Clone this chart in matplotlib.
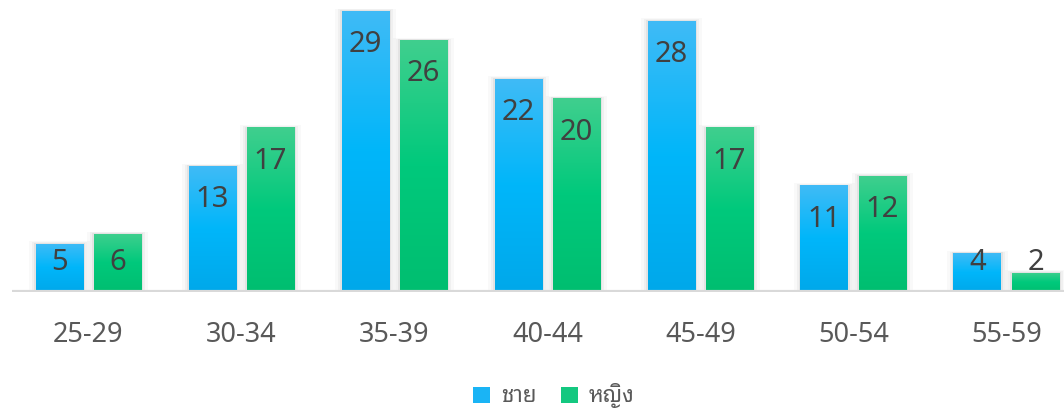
import matplotlib
matplotlib.use("Agg")
import matplotlib.pyplot as plt
import numpy as np
from matplotlib import font_manager
from matplotlib.colors import LinearSegmentedColormap
from matplotlib.patches import Rectangle

# age groups and counts
age_groups = ["25-29", "30-34", "35-39", "40-44", "45-49", "50-54", "55-59"]
male = [5, 13, 29, 22, 28, 11, 4]
female = [6, 17, 26, 20, 17, 12, 2]
series_names = ["ชาย", "หญิง"]

# pick a font that has Thai glyphs for the legend
installed = {f.name for f in font_manager.fontManager.ttflist}
thai_font = "Athiti"
for name in ["Noto Sans Thai Looped", "Noto Sans Thai", "Sarabun", "Athiti"]:
    if name in installed:
        thai_font = name
        break

plt.rcParams["font.family"] = ["Noto Sans", thai_font, "DejaVu Sans"]

blue_cmap = LinearSegmentedColormap.from_list("blue", ["#00A8EA", "#00B6FA", "#40BBF6"])
green_cmap = LinearSegmentedColormap.from_list("green", ["#00BE70", "#00C97C", "#40CF8E"])

fig = plt.figure(figsize=(10.64, 4.08), dpi=100)
# category width 153px, first category starts at x=12px, baseline at 116px from bottom
ax = fig.add_axes([12 / 1064, 116 / 408, 1052 / 1064, 290.7 / 408])
ax.set_xlim(-0.5, -0.5 + 1052 / 153)
ax.set_ylim(0, 30)

width = 48 / 153
gap = 10 / 153
x = np.arange(len(age_groups))
grad = np.linspace(0, 1, 256).reshape(-1, 1)


def draw_bars(xs, vals, cmap):
    for xi, v in zip(xs, vals):
        left = xi - width / 2
        # soft glow shadow around the bar
        for k, a in zip([0.04, 0.026, 0.013], [0.025, 0.035, 0.05]):
            sh = Rectangle((left - k, 0), width + 2 * k, v + k * 6,
                           facecolor="#000000", alpha=a, edgecolor="none", zorder=1)
            ax.add_patch(sh)
        rect = Rectangle((left, 0), width, v, facecolor="none", edgecolor="none", zorder=3)
        ax.add_patch(rect)
        im = ax.imshow(grad, cmap=cmap, aspect="auto", origin="lower",
                       extent=[left, left + width, 0, v], zorder=2)
        im.set_clip_path(rect)
        label_y = max(v - 3.5, 3.0)
        ax.text(xi, label_y, str(v), ha="center", va="center",
                fontsize=21, color="#404040", zorder=4)


draw_bars(x - gap / 2 - width / 2, male, blue_cmap)
draw_bars(x + gap / 2 + width / 2, female, green_cmap)

ax.axhline(0, color="#D9D9D9", linewidth=3, zorder=5)

for s in ax.spines.values():
    s.set_visible(False)
ax.set_yticks([])
ax.set_xticks(x)
ax.set_xticklabels(age_groups, fontsize=19.5, color="#595959")
ax.tick_params(axis="x", length=0, pad=21)

# legend
handles = [Rectangle((0, 0), 1, 1, facecolor="#1AB4F5", edgecolor="none"),
           Rectangle((0, 0), 1, 1, facecolor="#14C880", edgecolor="none")]
fig.legend(handles, series_names, loc="center", bbox_to_anchor=(554 / 1064, 1 - 396 / 408),
           ncol=2, frameon=False, labelcolor="#595959",
           prop={"family": [thai_font, "Noto Sans"], "size": 16},
           handlelength=0.75, handleheight=0.75, handletextpad=0.5, columnspacing=1.1)

fig.savefig("out.png", dpi=100)
